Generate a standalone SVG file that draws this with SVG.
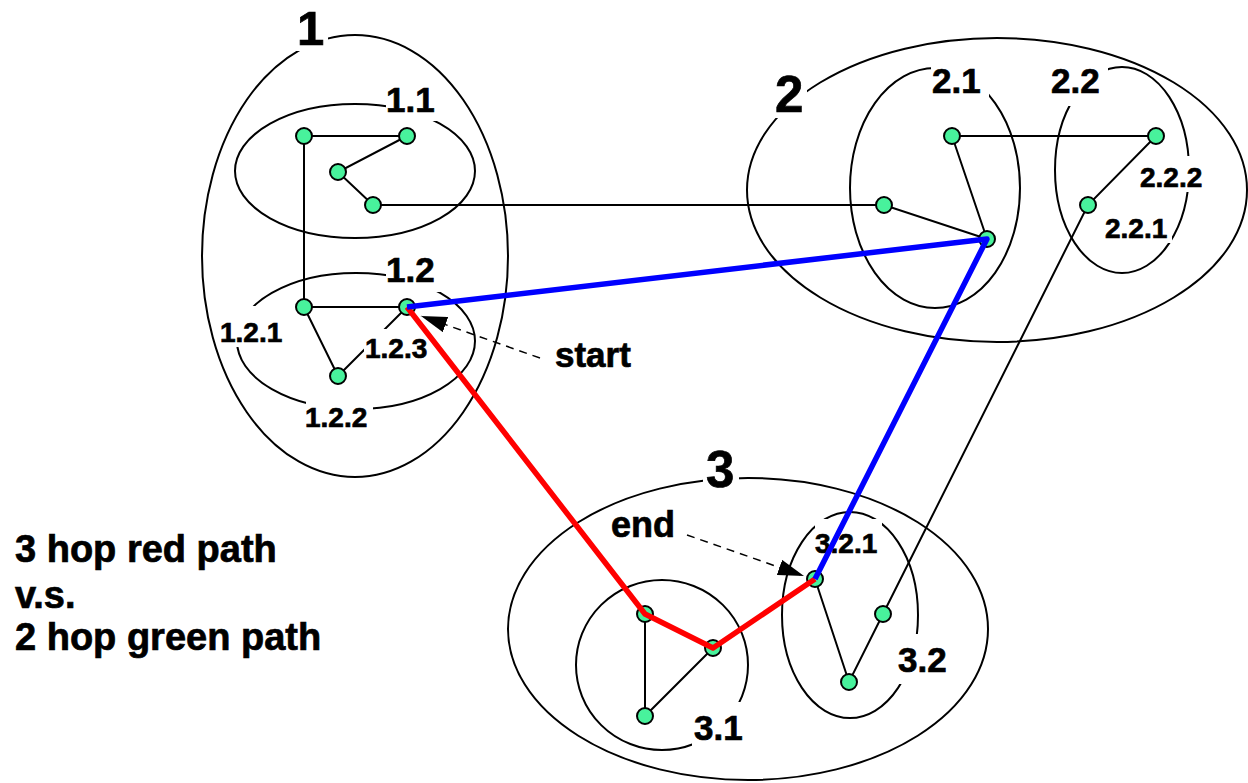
<svg xmlns="http://www.w3.org/2000/svg" width="1248" height="783" viewBox="0 0 1248 783">
<style>
.cl{fill:none;stroke:#000;stroke-width:2}
.ln{stroke:#000;stroke-width:2;fill:none}
.nd{fill:#48f29c;stroke:#000;stroke-width:2}
.bg{fill:#fff;stroke:none}
.lb{font-family:"Liberation Sans",Arial,sans-serif;font-weight:bold;fill:#000;stroke:#000;stroke-width:0.7}
.big{font-size:51px}
.mid{font-size:35px}
.sm{font-size:28px}
.txt{font-family:"Liberation Sans",Arial,sans-serif;font-weight:bold;fill:#000;stroke:#000;stroke-width:0.7}
.red{stroke:#f00;stroke-width:5.5;fill:none;stroke-linejoin:round}
.blue{stroke:#00f;stroke-width:5.5;fill:none;stroke-linejoin:round}
.dash{stroke:#000;stroke-width:1.5;stroke-dasharray:8 6;fill:none}
</style>
<defs>
<marker id="ah" viewBox="0 0 26 16" refX="26" refY="8" markerWidth="26" markerHeight="16" markerUnits="userSpaceOnUse" orient="auto">
<path d="M0,0 L26,8 L0,16 z" fill="#000"/>
</marker>
</defs>
<g id="clusters">
<g id="c1"><ellipse class="cl" cx="355" cy="256" rx="153" ry="221"/></g>
<g id="c1_1"><ellipse class="cl" cx="355" cy="171" rx="120" ry="67"/></g>
<g id="c1_2"><ellipse class="cl" cx="356" cy="341" rx="119" ry="68"/></g>
<g id="c2"><ellipse class="cl" cx="997" cy="190" rx="250" ry="152"/></g>
<g id="c2_1"><ellipse class="cl" cx="935" cy="188" rx="85" ry="120"/></g>
<g id="c2_2"><ellipse class="cl" cx="1122" cy="170" rx="67" ry="103"/></g>
<g id="c3"><ellipse class="cl" cx="748" cy="629" rx="240" ry="151"/></g>
<g id="c3_1"><ellipse class="cl" cx="662" cy="665" rx="86" ry="85"/></g>
<g id="c3_2"><ellipse class="cl" cx="850" cy="615" rx="68" ry="103"/></g>
</g>
<g id="connectors">
<path class="ln" d="M304,136 H407 M304,136 V307 M407,136 L338,172 L373,205 H884 L987,239 M952,136 H1156 L1088,205 L883,614 L849,682 L815,579 M952,136 L987,239 M304,307 H407 L338,376 L304,307 M645,614 V716 L713,648"/>
</g>
<g id="vertices">
<g id="n1_1a"><circle class="nd" cx="304" cy="136" r="8"/></g>
<g id="n1_1b"><circle class="nd" cx="407" cy="136" r="8"/></g>
<g id="n1_1c"><circle class="nd" cx="338" cy="172" r="8"/></g>
<g id="n1_1d"><circle class="nd" cx="373" cy="205" r="8"/></g>
<g id="n1_2_1"><circle class="nd" cx="304" cy="307" r="8"/></g>
<g id="n1_2_3"><circle class="nd" cx="407" cy="307" r="8"/></g>
<g id="n1_2_2"><circle class="nd" cx="338" cy="376" r="8"/></g>
<g id="n2_1a"><circle class="nd" cx="952" cy="136" r="8"/></g>
<g id="n2_1b"><circle class="nd" cx="884" cy="205" r="8"/></g>
<g id="n2_1c"><circle class="nd" cx="987" cy="239" r="8"/></g>
<g id="n2_2_2"><circle class="nd" cx="1156" cy="136" r="8"/></g>
<g id="n2_2_1"><circle class="nd" cx="1088" cy="205" r="8"/></g>
<g id="n3_1a"><circle class="nd" cx="645" cy="614" r="8"/></g>
<g id="n3_1b"><circle class="nd" cx="713" cy="648" r="8"/></g>
<g id="n3_1c"><circle class="nd" cx="645" cy="716" r="8"/></g>
<g id="n3_2_1"><circle class="nd" cx="815" cy="579" r="8"/></g>
<g id="n3_2b"><circle class="nd" cx="883" cy="614" r="8"/></g>
<g id="n3_2c"><circle class="nd" cx="849" cy="682" r="8"/></g>
</g>
<g id="labels">
<rect class="bg" x="296" y="0" width="32" height="51"/>
<rect class="bg" x="386" y="80" width="55" height="41"/>
<rect class="bg" x="386" y="253" width="55" height="39"/>
<rect class="bg" x="218" y="306" width="68" height="41"/>
<rect class="bg" x="306" y="400" width="67" height="32"/>
<rect class="bg" x="364" y="329" width="68" height="33"/>
<rect class="bg" x="772" y="66" width="35" height="52"/>
<rect class="bg" x="931" y="60" width="58" height="37"/>
<rect class="bg" x="1050" y="60" width="58" height="46"/>
<rect class="bg" x="1138" y="156" width="72" height="36"/>
<rect class="bg" x="1104" y="213" width="68" height="30"/>
<rect class="bg" x="703" y="440" width="36" height="48"/>
<rect class="bg" x="692" y="702" width="50" height="46"/>
<rect class="bg" x="896" y="634" width="59" height="50"/>
<rect class="bg" x="815" y="519" width="67" height="40"/>
<text class="lb" x="297" y="45" font-size="49">1</text>
<text class="lb mid" x="386" y="112">1.1</text>
<text class="lb mid" x="386" y="282">1.2</text>
<text class="lb sm" x="220" y="342">1.2.1</text>
<text class="lb sm" x="305" y="427">1.2.2</text>
<text class="lb sm" x="365" y="358">1.2.3</text>
<text class="lb big" x="775" y="112">2</text>
<text class="lb big" x="706" y="487">3</text>
<text class="lb mid" x="932" y="93">2.1</text>
<text class="lb mid" x="1051" y="93">2.2</text>
<text class="lb sm" x="1140" y="187">2.2.2</text>
<text class="lb sm" x="1105" y="238">2.2.1</text>
<text class="lb mid" x="694" y="740">3.1</text>
<text class="lb mid" x="898" y="672">3.2</text>
<text class="lb sm" x="815" y="553">3.2.1</text>
</g>
<g id="paths">
<polyline class="red" points="407,307 645,614 713,648 815,579"/>
<polyline class="blue" points="407,307 987,239 815,579"/>
</g>
<g id="annotations">
<line class="dash" x1="540" y1="358" x2="421" y2="316" marker-end="url(#ah)"/>
<line class="dash" x1="687" y1="535" x2="804" y2="576" marker-end="url(#ah)"/>
<text class="txt" x="555" y="367" font-size="35">start</text>
<text class="txt" x="611" y="537" font-size="36">end</text>
<text class="txt" x="15" y="562" font-size="38">3 hop red path</text>
<text class="txt" x="15" y="608" font-size="38">v.s.</text>
<text class="txt" x="15" y="650" font-size="38">2 hop green path</text>
</g>
</svg>
